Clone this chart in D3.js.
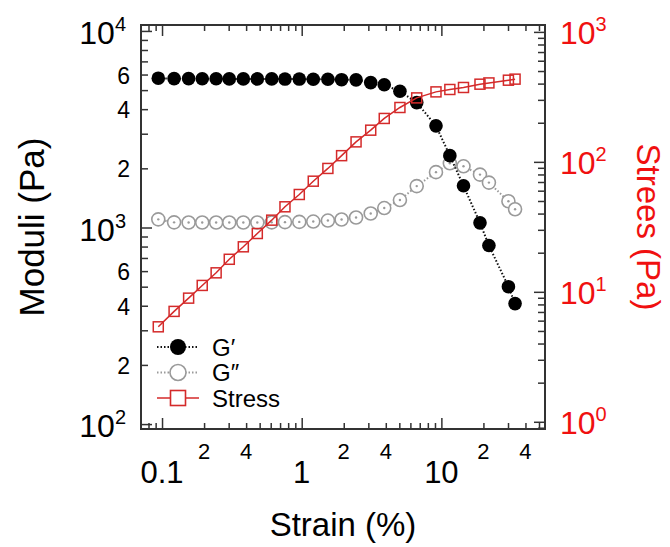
<!DOCTYPE html>
<html>
<head>
<meta charset="utf-8">
<script src="https://cdn.jsdelivr.net/npm/d3@7"></script>
<style>
  body { margin: 0; background: #fff; }
  text { font-family: "Liberation Sans", Arial, Helvetica, sans-serif; }
</style>
</head>
<body>
<div id="chart"></div>
<script>
// values
const strain = [0.094, 0.122, 0.155, 0.194, 0.244, 0.303, 0.382, 0.481, 0.61, 0.759,
  0.961, 1.21, 1.54, 1.93, 2.45, 3.12, 3.9, 5.05, 6.66, 9.15,
  11.5, 14.4, 18.9, 21.9, 30.2, 33.7];
const gPrime = [5750, 5720, 5720, 5710, 5710, 5700, 5700, 5700, 5700, 5690,
  5690, 5680, 5680, 5650, 5640, 5460, 5320, 4930, 4320, 3290,
  2320, 1630, 1056, 810, 500, 410];
const gDouble = [1100, 1062, 1060, 1060, 1060, 1060, 1060, 1060, 1062, 1065,
  1068, 1072, 1085, 1098, 1124, 1178, 1256, 1379, 1624, 1913,
  2121, 2048, 1858, 1692, 1360, 1238];
const stress = [5.38, 7.07, 8.94, 11.2, 14.0, 17.8, 22.2, 28.1, 35.6, 45.1,
  56.1, 71.0, 89.0, 111.6, 142.5, 175.3, 215.8, 262, 310.6, 345.5,
  360.5, 373.5, 396, 405, 425, 433];

const xMajor = [0.1, 1, 10];
const xMajorLabels = ["0.1", "1", "10"];
const xMinorLabeled = [0.2, 0.4, 2, 4, 20, 40];
const leftMajor = [100, 1000, 10000];
const leftMajorExp = ["2", "3", "4"];
const leftMinorLabeled = [200, 400, 600, 2000, 4000, 6000];
const rightMajor = [1, 10, 100, 1000];
const rightMajorExp = ["0", "1", "2", "3"];
const legendNames = ["G\u2032", "G\u2033", "Stress"];

const W = 670, H = 547;
const margin = {top: 25, right: 125, bottom: 118, left: 141};
const iw = W - margin.left - margin.right;
const ih = H - margin.top - margin.bottom;

const red = "#d42a2a";
const redText = "#f01010";
const grey = "#9a9a9a";
const axisCol = "#333";

const x = d3.scaleLog().domain([0.0707, 55.2]).range([0, iw]);
const yL = d3.scaleLog().domain([94.4, 10720]).range([ih, 0]);
const yR = d3.scaleLog().domain([0.88, 1130]).range([ih, 0]);

const isPow10 = v => Math.abs(Math.log10(v) - Math.round(Math.log10(v))) < 1e-6;

const svg = d3.select("#chart").append("svg")
    .attr("width", W)
    .attr("height", H);

const g = svg.append("g")
    .attr("transform", `translate(${margin.left},${margin.top})`);

// ticks, all pointing into the frame
function ticks(axis, scale, values, size, transform) {
    let t = g.append("g")
        .attr("transform", transform || null)
        .call(axis(scale).tickValues(values).tickSize(size).tickFormat(""));
    t.select(".domain").remove();
    t.selectAll("line").attr("stroke", axisCol).attr("stroke-width", 1.5);
}

const xMinor = x.ticks().filter(v => !isPow10(v));
const lMinor = yL.ticks().filter(v => !isPow10(v));
const rMinor = yR.ticks().filter(v => !isPow10(v));

ticks(d3.axisBottom, x, xMajor, -11, `translate(0,${ih})`);
ticks(d3.axisBottom, x, xMinor, -6, `translate(0,${ih})`);
ticks(d3.axisTop, x, xMajor, -11);
ticks(d3.axisTop, x, xMinor, -6);
ticks(d3.axisLeft, yL, leftMajor, -11);
ticks(d3.axisLeft, yL, lMinor, -7);
ticks(d3.axisRight, yR, rightMajor, -11, `translate(${iw},0)`);
ticks(d3.axisRight, yR, rMinor, -7, `translate(${iw},0)`);

g.append("rect")
    .attr("width", iw)
    .attr("height", ih)
    .attr("fill", "none")
    .attr("stroke", axisCol)
    .attr("stroke-width", 2);

// tick labels
g.selectAll(".xmaj").data(xMajor).enter().append("text")
    .attr("x", d => x(d))
    .attr("y", ih + 54)
    .attr("text-anchor", "middle")
    .attr("font-size", 31)
    .text((d, i) => xMajorLabels[i]);

g.selectAll(".xmin").data(xMinorLabeled).enter().append("text")
    .attr("x", d => x(d))
    .attr("y", ih + 30)
    .attr("text-anchor", "middle")
    .attr("font-size", 22)
    .text(d => String(d).replace(/[0.]/g, ""));

let lm = g.selectAll(".lmaj").data(leftMajor).enter().append("text")
    .attr("x", -15)
    .attr("y", d => yL(d) + 13)
    .attr("text-anchor", "end")
    .attr("font-size", 32);
lm.append("tspan").text("10");
lm.append("tspan").attr("font-size", 20).attr("dy", -13).text((d, i) => leftMajorExp[i]);

g.selectAll(".lmin").data(leftMinorLabeled).enter().append("text")
    .attr("x", -11)
    .attr("y", d => yL(d) + 9)
    .attr("text-anchor", "end")
    .attr("font-size", 23)
    .text(d => String(d)[0]);

let rm = g.selectAll(".rmaj").data(rightMajor).enter().append("text")
    .attr("x", iw + 15)
    .attr("y", d => yR(d) + 12)
    .attr("fill", redText)
    .attr("font-size", 32);
rm.append("tspan").text("10");
rm.append("tspan").attr("font-size", 20).attr("dy", -13).text((d, i) => rightMajorExp[i]);

// axis titles
svg.append("text")
    .attr("transform", `translate(44,${margin.top + ih / 2}) rotate(-90)`)
    .attr("text-anchor", "middle")
    .attr("font-size", 35)
    .text("Moduli (Pa)");

svg.append("text")
    .attr("transform", `translate(637,${margin.top + ih / 2}) rotate(90)`)
    .attr("text-anchor", "middle")
    .attr("font-size", 33)
    .attr("fill", redText)
    .text("Strees (Pa)");

svg.append("text")
    .attr("x", margin.left + iw / 2)
    .attr("y", 536)
    .attr("text-anchor", "middle")
    .attr("font-size", 33)
    .text("Strain (%)");

// series
const lineL = d3.line().x(d => x(d[0])).y(d => yL(d[1]));
const lineR = d3.line().x(d => x(d[0])).y(d => yR(d[1]));
const gppData = strain.map((s, i) => [s, gDouble[i]]);
const gpData = strain.map((s, i) => [s, gPrime[i]]);
const stData = strain.map((s, i) => [s, stress[i]]);

g.append("path").datum(gppData)
    .attr("d", lineL)
    .attr("fill", "none")
    .attr("stroke", grey)
    .attr("stroke-width", 2)
    .attr("stroke-dasharray", "1.5,2");

let gpp = g.selectAll(".gpp").data(gppData).enter().append("g")
    .attr("transform", d => `translate(${x(d[0])},${yL(d[1])})`);
gpp.append("circle").attr("r", 6.5).attr("fill", "#fff").attr("stroke", grey).attr("stroke-width", 1.6);
gpp.append("circle").attr("r", 1.2).attr("fill", grey);

g.append("path").datum(gpData)
    .attr("d", lineL)
    .attr("fill", "none")
    .attr("stroke", "#111")
    .attr("stroke-width", 2)
    .attr("stroke-dasharray", "1.5,2");

g.selectAll(".gp").data(gpData).enter().append("circle")
    .attr("cx", d => x(d[0]))
    .attr("cy", d => yL(d[1]))
    .attr("r", 6.8)
    .attr("fill", "#000");

g.append("path").datum(stData)
    .attr("d", lineR)
    .attr("fill", "none")
    .attr("stroke", red)
    .attr("stroke-width", 1.5);

g.selectAll(".st").data(stData).enter().append("rect")
    .attr("x", d => x(d[0]) - 5)
    .attr("y", d => yR(d[1]) - 5)
    .attr("width", 10)
    .attr("height", 10)
    .attr("fill", "none")
    .attr("stroke", red)
    .attr("stroke-width", 1.5);

// legend
const leg = svg.append("g").attr("transform", "translate(157,347)");
const rowH = 25.5;
legendNames.forEach((name, i) => {
    let row = leg.append("g").attr("transform", `translate(0,${i * rowH})`);
    let col = i === 0 ? "#111" : i === 1 ? grey : red;
    row.append("line")
        .attr("x1", 0).attr("x2", 42)
        .attr("stroke", col)
        .attr("stroke-width", i === 2 ? 1.5 : 2)
        .attr("stroke-dasharray", i === 2 ? null : "1.5,2");
    if (i === 0) {
        row.append("circle").attr("cx", 21).attr("r", 8).attr("fill", "#000");
    } else if (i === 1) {
        row.append("circle").attr("cx", 21).attr("r", 8).attr("fill", "#fff")
            .attr("stroke", grey).attr("stroke-width", 1.6);
    } else {
        row.append("rect").attr("x", 13.5).attr("y", -7.5).attr("width", 15).attr("height", 15)
            .attr("fill", "#fff").attr("stroke", red).attr("stroke-width", 1.6);
    }
    row.append("text")
        .attr("x", 55)
        .attr("y", 8.5)
        .attr("font-size", 24)
        .text(name);
});
</script>
</body>
</html>
